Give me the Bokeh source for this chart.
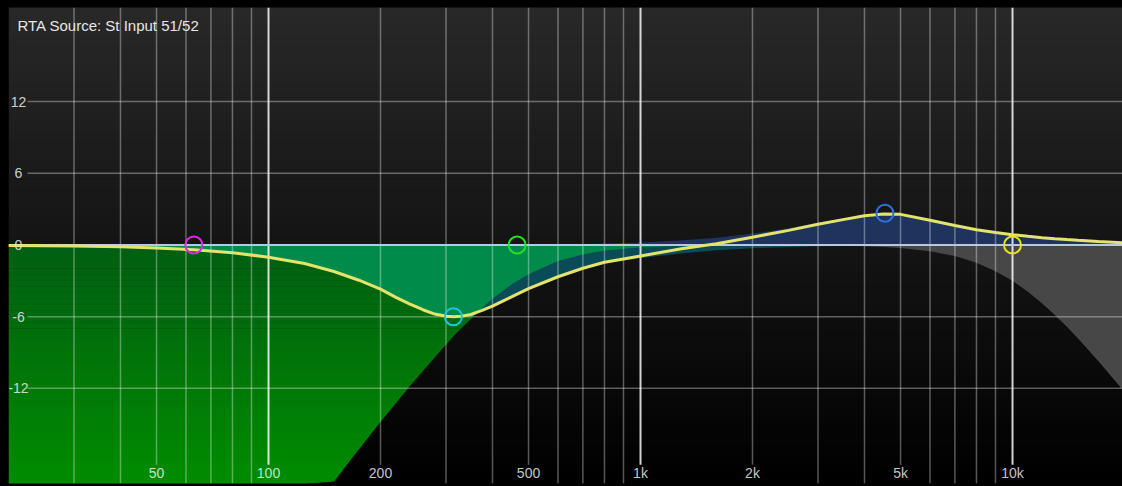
import numpy as np
from bokeh.plotting import figure
from bokeh.models import Label
from bokeh.core.properties import value
from bokeh.embed import file_html
from bokeh.resources import INLINE

# ---------------- data ----------------
freq_hz = [20, 30, 40, 50, 63, 80, 100, 125, 150, 175,
           200, 220, 240, 260, 280, 300, 315, 330, 350, 375,
           400, 425, 450, 500, 600, 700, 800, 1000, 1300, 1600,
           2000, 2500, 3000, 3500, 4000, 4500, 5000, 6000, 7000, 8000,
           9000, 10000, 11000, 12000, 13000, 14000, 15000, 17000, 20000]

# overall EQ response (yellow curve)
response_db = [-0.04, -0.09, -0.16, -0.26, -0.41, -0.65, -1.02, -1.55, -2.22, -2.95,
               -3.7, -4.38, -4.95, -5.42, -5.78, -5.96, -6.0, -5.96, -5.82, -5.48,
               -5.12, -4.72, -4.35, -3.66, -2.66, -1.95, -1.45, -0.92, -0.3, 0.1,
               0.65, 1.22, 1.74, 2.12, 2.44, 2.6, 2.56, 2.07, 1.63, 1.28,
               1.04, 0.86, 0.72, 0.61, 0.52, 0.45, 0.39, 0.29, 0.18]

# low-cut band (green filled area)
low_cut_db = [-20, -20, -20, -20, -20, -20, -20, -20, -19.8, -17.1,
              -14.8, -13.25, -11.8, -10.54, -9.4, -8.34, -7.6, -6.97, -6.2, -5.29,
              -4.5, -3.88, -3.3, -2.45, -1.35, -0.8, -0.47, -0.2, -0.07, -0.03,
              -0.01, 0, 0, 0, 0, 0, 0, 0, 0, 0,
              0, 0, 0, 0, 0, 0, 0, 0, 0]

# cut bell (cyan band)
cut_bell_db = [-0.04, -0.09, -0.16, -0.26, -0.41, -0.65, -1.02, -1.55, -2.22, -2.95,
               -3.7, -4.38, -4.95, -5.42, -5.78, -5.96, -6.0, -5.96, -5.82, -5.48,
               -5.12, -4.72, -4.35, -3.68, -2.7, -2.02, -1.57, -1.1, -0.7, -0.45,
               -0.28, -0.17, -0.11, -0.08, -0.06, -0.05, -0.04, -0.03, -0.02, -0.02,
               -0.02, -0.01, -0.01, -0.01, -0.01, -0.01, -0.01, -0.01, 0]

# boost bell (blue band)
boost_bell_db = [0, 0, 0, 0, 0, 0, 0, 0, 0, 0,
                 0, 0, 0, 0, 0, 0, 0, 0, 0, 0,
                 0, 0, 0, 0.02, 0.04, 0.07, 0.12, 0.2, 0.4, 0.6,
                 0.95, 1.4, 1.85, 2.2, 2.5, 2.65, 2.6, 2.1, 1.65, 1.3,
                 1.05, 0.87, 0.73, 0.62, 0.53, 0.46, 0.4, 0.3, 0.18]

# high-cut band (grey filled area)
high_cut_db = [0, 0, 0, 0, 0, 0, 0, 0, 0, 0,
               0, 0, 0, 0, 0, 0, 0, 0, 0, 0,
               0, 0, 0, 0, 0, 0, 0, 0, 0, 0,
               0, -0.02, -0.04, -0.065, -0.11, -0.17, -0.26, -0.53, -0.93, -1.49,
               -2.19, -3.0, -3.92, -4.88, -5.86, -6.85, -7.83, -9.71, -12.3]

marker_freq = [63, 314, 466, 4540, 10000]
marker_db = [0, -6.0, 0, 2.65, 0]
marker_colors = ["#e226e2", "#1ec4e4", "#22e222", "#3070dc", "#e8e414"]

grid_freqs = [30, 40, 50, 60, 70, 80, 90, 100, 200, 300, 400, 500, 600, 700, 800,
              900, 1000, 2000, 3000, 4000, 5000, 6000, 7000, 8000, 9000, 10000]
major_freqs = [100, 1000, 10000]
x_tick_freqs = [50, 100, 200, 500, 1000, 2000, 5000, 10000]
x_tick_labels = ["50", "100", "200", "500", "1k", "2k", "5k", "10k"]
y_grid_db = [12, 6, -6, -12]
y_ticks = [12, 6, 0, -6, -12]
y_tick_labels = ["12", "6", "0", "-6", "-12"]
title_text = "RTA Source: St Input 51/52"

# ---------------- figure ----------------
X0, X1 = 20.0, 19754.0
Y0, Y1 = -19.96, 19.87
FONT = "Liberation Sans"

p = figure(width=1122, height=486, x_axis_type="log", x_range=(X0, X1),
           y_range=(Y0, Y1), x_axis_location=None, y_axis_location=None,
           toolbar_location=None, output_backend="svg",
           min_border_left=8, min_border_top=7, min_border_bottom=3,
           min_border_right=0,
           background_fill_color="black", border_fill_color="black",
           outline_line_color=None)
p.grid.grid_line_color = None

# background vertical gradient
nb = 50
edges = np.linspace(Y0, Y1, nb + 1)
bg_cols = []
for i in range(nb):
    frac = ((edges[i] + edges[i + 1]) / 2 - Y0) / (Y1 - Y0)
    lv = int(round(40 * frac))
    bg_cols.append("#%02x%02x%02x" % (lv, lv, lv))
p.quad(left=X0, right=X1, bottom=edges[:-1], top=edges[1:] + 0.06,
       fill_color=bg_cols, line_color=None)

F = np.array(freq_hz, dtype=float)
H = np.array(low_cut_db, dtype=float)
C = np.array(cut_bell_db, dtype=float)
B = np.array(boost_bell_db, dtype=float)
L = np.array(high_cut_db, dtype=float)
R = np.array(response_db, dtype=float)


def clip_band(pts, ylo, yhi):
    def clip(poly, inside, yc):
        out = []
        for i in range(len(poly)):
            cur, prev = poly[i], poly[i - 1]
            ci, pi = inside(cur), inside(prev)
            if ci:
                if not pi:
                    t = (yc - prev[1]) / (cur[1] - prev[1])
                    out.append((prev[0] + t * (cur[0] - prev[0]), yc))
                out.append(cur)
            elif pi:
                t = (yc - prev[1]) / (cur[1] - prev[1])
                out.append((prev[0] + t * (cur[0] - prev[0]), yc))
        return out
    poly = clip(pts, lambda q: q[1] >= ylo, ylo)
    if not poly:
        return poly
    return clip(poly, lambda q: q[1] <= yhi, yhi)


# green low-cut region with vertical gradient
u = np.log10(F)
green_poly = [(u[i], H[i]) for i in range(len(F))] + [(u[-1], 0.0), (u[0], 0.0)]
gxs, gys, gcols = [], [], []
gedges = np.linspace(-20.0, 0.0, 41)
top_c = np.array([0, 94, 18])
bot_c = np.array([0, 140, 0])
for i in range(40):
    lo, hi = gedges[i], min(gedges[i + 1] + 0.04, 0.0)
    poly = clip_band(green_poly, lo, hi)
    if len(poly) < 3:
        continue
    frac = -((lo + hi) / 2) / 20.0
    c = top_c + frac * (bot_c - top_c)
    gxs.append([10 ** q[0] for q in poly])
    gys.append([q[1] for q in poly])
    gcols.append("#%02x%02x%02x" % tuple(int(round(v)) for v in c))
p.patches(xs=gxs, ys=gys, fill_color=gcols, line_color=None)

# cyan cut band (dark teal), overlap with low-cut, blue boost, grey high-cut
p.varea(x=F, y1=0, y2=C, fill_color="#0b4b57")
p.varea(x=F, y1=0, y2=np.maximum(H, C), fill_color="#008b4b")
p.varea(x=F, y1=0, y2=B, fill_color="#1e345c")
p.varea(x=F, y1=0, y2=L, fill_color="#474747")

# grid lines
minor = [f for f in grid_freqs if f not in major_freqs]
minor_bottom = [-18.4 if f in x_tick_freqs else Y0 for f in minor]
p.segment(x0=minor, y0=minor_bottom, x1=minor, y1=Y1,
          line_color="white", line_alpha=0.34, line_width=1.5)
p.segment(x0=major_freqs, y0=-18.4, x1=major_freqs, y1=Y1,
          line_color="white", line_alpha=0.82, line_width=2)
p.segment(x0=22.5, y0=y_grid_db, x1=X1, y1=y_grid_db,
          line_color="white", line_alpha=0.34, line_width=1.5)
p.segment(x0=X0, y0=0, x1=X1, y1=0, line_color="#b8c8e2", line_width=2)

# overall response
p.line(F, R, line_color="#e4e46c", line_width=3)

# band markers
p.scatter(x=marker_freq, y=marker_db, marker="circle", size=17, fill_alpha=0,
          line_color=marker_colors, line_width=2)

# labels
p.text(x=[X0] * len(y_ticks), y=y_ticks, text=y_tick_labels, x_offset=10,
       text_align="center", text_baseline="middle", text_font=value(FONT),
       text_font_size="14px", text_color="#e4e4e4", text_alpha=0.9)
p.text(x=x_tick_freqs, y=-19.05, text=x_tick_labels, text_align="center",
       text_baseline="middle", text_font=value(FONT), text_font_size="14px",
       text_color="#ffffff", text_alpha=0.78)
p.add_layout(Label(x=X0, y=Y1, x_offset=9, y_offset=-18, text=title_text,
                   text_font=FONT, text_font_size="15px", text_color="#e6e6e6",
                   text_baseline="middle"))

html = file_html(p, INLINE)
html = html.replace("</head>", "<style>html,body{background:#000;}</style></head>", 1)
open("out.html", "w").write(html)
